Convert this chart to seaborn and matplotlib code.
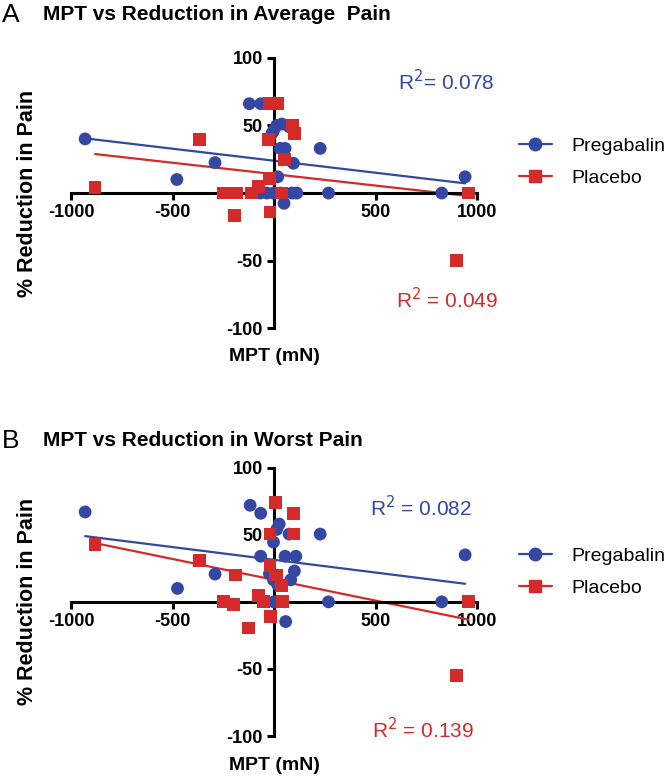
import matplotlib
matplotlib.use("Agg")
import matplotlib.pyplot as plt
from matplotlib.lines import Line2D
import numpy as np
import pandas as pd
import seaborn as sns

# Panel A: MPT vs reduction in average pain
avg_preg_x = [-931, -479, -291, -122, -66, 13, -3, -11, 38, 74, 30, 54, 227, 95, 18,
              -69, -36, -3, 30, 87, 112, 268, 49, 826, 941]
avg_preg_y = [40, 10, 22.5, 66, 66, 50, 46, 44, 51, 49, 33, 33, 33, 22, 12,
              0, 0, 0, 0, 0, 0, 0, -7.6, 0, 12]
avg_plac_x = [-882, -368, -23, 16, 92, 100, -28, 51, -23, -77, -250, -217, -184,
              -110, 38, -196, -20, 957, 900]
avg_plac_y = [4, 39.5, 66, 66, 50, 44, 39.5, 25, 11, 4.6, 0, 0, 0,
              0, 0, -16.7, -14, 0, -50]

# Panel B: MPT vs reduction in worst pain
worst_preg_x = [-931, -476, -291, -118, -66, 25, 13, 74, 227, -3, -66, 54, 107, 100,
                82, -23, -3, 18, 0, 268, 57, 826, 941]
worst_preg_y = [67, 10, 20.7, 72, 66, 58, 54, 50.5, 50.5, 44.5, 34, 34, 34, 23,
                16.4, 21, 16.4, 12.7, 0, 0, -14.7, 0, 35]
worst_plac_x = [-882, -368, -189, -250, -200, -126, -77, -53, 43, -16, 8, 95, -20,
                95, -20, 5, 13, 35, 957, 900]
worst_plac_y = [42.5, 30.6, 20, 0, -2, -19.5, 4.5, 0, 0, -11, 74, 66, 50.5,
                50.5, 27, 20, 20, 12, 0, -55]

groups = ["Pregabalin", "Placebo"]
r2_text = {
    "A": ["R$^2$= 0.078", "R$^2$ = 0.049"],
    "B": ["R$^2$ = 0.082", "R$^2$ = 0.139"],
}
titles = {"A": "MPT vs Reduction in Average  Pain", "B": "MPT vs Reduction in Worst Pain"}

blue = "#3447a3"
red = "#d42a2a"
palette = {"Pregabalin": blue, "Placebo": red}
markers = {"Pregabalin": "o", "Placebo": "s"}


def make_df(px, py, qx, qy):
    a = pd.DataFrame({"MPT": px, "Reduction": py, "Group": "Pregabalin"})
    b = pd.DataFrame({"MPT": qx, "Reduction": qy, "Group": "Placebo"})
    return pd.concat([a, b], ignore_index=True)


sns.set_style("white")
plt.rcParams["font.family"] = ["Liberation Sans", "DejaVu Sans"]
plt.rcParams["axes.unicode_minus"] = False
for k in ["text.color", "axes.labelcolor", "xtick.color", "ytick.color"]:
    plt.rcParams[k] = "black"

fig = plt.figure(figsize=(6.71, 7.8), dpi=100)
ax_a = fig.add_axes([0.106, 0.579, 0.605, 0.347])
ax_b = fig.add_axes([0.106, 0.0564, 0.605, 0.344])

panels = [
    ("A", ax_a, make_df(avg_preg_x, avg_preg_y, avg_plac_x, avg_plac_y),
     [(611, 82), (600, -79)], 1 - 15 / 780, -0.074),
    ("B", ax_b, make_df(worst_preg_x, worst_preg_y, worst_plac_x, worst_plac_y),
     [(473, 70), (483, -95)], 1 - 441 / 780, -0.078),
]

for key, ax, df, r2_pos, title_y, xlab_y in panels:
    # regression lines (fit from the data)
    for g in groups:
        sub = df[df["Group"] == g]
        sns.regplot(data=sub, x="MPT", y="Reduction", ax=ax, scatter=False, ci=None,
                    color=palette[g], line_kws={"lw": 1.6})
    sns.scatterplot(data=df, x="MPT", y="Reduction", hue="Group", style="Group",
                    palette=palette, markers=markers, s=85, edgecolor="none",
                    ax=ax, legend=False, zorder=3)

    ax.set_xlim(-1000, 1000)
    ax.set_ylim(-100, 100)
    ax.spines["left"].set_position(("data", 0))
    ax.spines["bottom"].set_position(("data", 0))
    ax.spines["right"].set_visible(False)
    ax.spines["top"].set_visible(False)
    for s in ["left", "bottom"]:
        ax.spines[s].set_linewidth(2.2)
        ax.spines[s].set_color("black")
    ax.set_xticks([-1000, -500, 500, 1000])
    ax.set_yticks([-100, -50, 50, 100])
    ax.tick_params(axis="both", direction="out", length=5, width=2.2,
                   labelsize=13, pad=3)
    ax.tick_params(axis="x", bottom=True)
    ax.tick_params(axis="y", left=True)
    for lab in ax.get_xticklabels() + ax.get_yticklabels():
        lab.set_fontweight("bold")
    ax.set_xlabel("MPT (mN)", fontsize=14, fontweight="bold")
    ax.set_ylabel("% Reduction in Pain", fontsize=15.5, fontweight="bold")
    ax.xaxis.set_label_coords(0.5, xlab_y)
    ax.yaxis.set_label_coords(-0.081, 0.5)
    ax.grid(False)

    ax.text(r2_pos[0][0], r2_pos[0][1], r2_text[key][0], color=blue, fontsize=15,
            va="center", ha="left")
    ax.text(r2_pos[1][0], r2_pos[1][1], r2_text[key][1], color=red, fontsize=15,
            va="center", ha="left")

    handles = [Line2D([0], [0], color=palette[g], marker=markers[g], markersize=9,
                      lw=1.6) for g in groups]
    ax.legend(handles, groups, loc="upper left", bbox_to_anchor=(1.06, 0.77),
              frameon=False, fontsize=14, handlelength=1.7, labelspacing=0.75,
              handletextpad=1.0)

    fig.text(43 / 671, title_y, titles[key], fontsize=15, fontweight="bold",
             va="center", ha="left")
    fig.text(2 / 671, title_y, key, fontsize=19, va="center", ha="left")

fig.savefig("out.png", dpi=100)
